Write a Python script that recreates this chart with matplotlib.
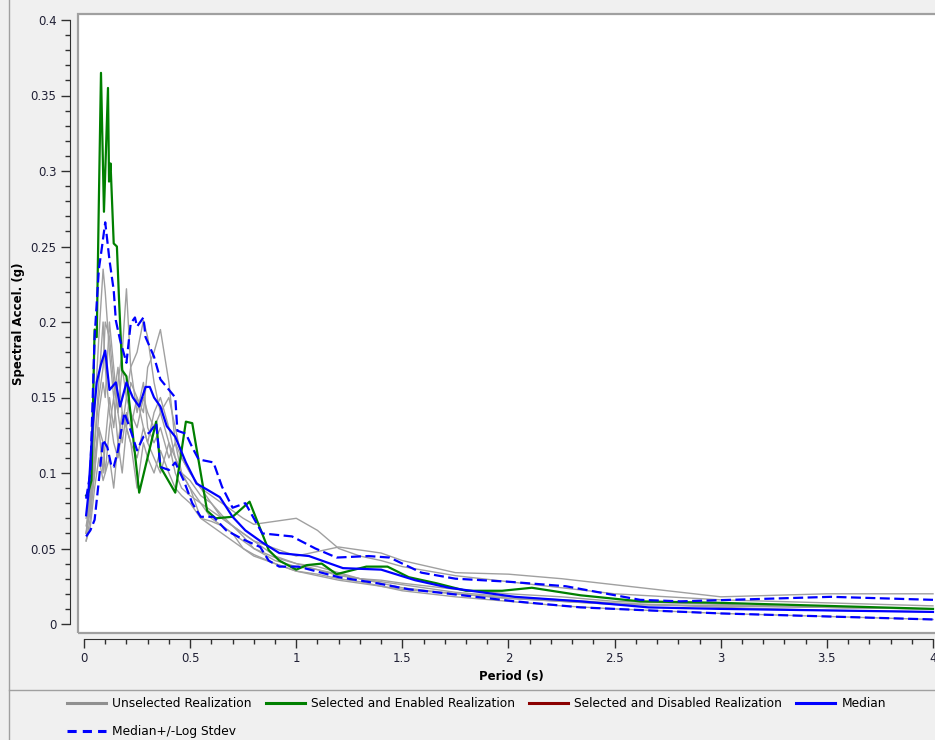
import matplotlib.pyplot as plt, numpy as np
from matplotlib.lines import Line2D
from matplotlib.patches import Rectangle
from matplotlib.ticker import MultipleLocator

# period grid shared by the unselected realizations
t_gray = [0.01, 0.03, 0.05, 0.07, 0.09, 0.1, 0.12, 0.14, 0.16, 0.18, 0.2, 0.22, 0.25, 0.28, 0.3,
          0.33, 0.36, 0.4, 0.43, 0.46, 0.5, 0.55, 0.6, 0.65, 0.7, 0.75, 0.8, 0.9, 1.0, 1.1, 1.2,
          1.3, 1.4, 1.5, 1.75, 2.0, 2.25, 2.5, 3.0, 3.5, 4.0]
gray_1 = [0.06, 0.09, 0.14, 0.19, 0.235, 0.22, 0.18, 0.15, 0.17, 0.14, 0.13, 0.12, 0.11, 0.13, 0.12,
          0.11, 0.10, 0.12, 0.11, 0.10, 0.09, 0.08, 0.075, 0.07, 0.065, 0.06, 0.055, 0.045, 0.04, 0.038, 0.034,
          0.03, 0.028, 0.026, 0.021, 0.018, 0.016, 0.014, 0.011, 0.009, 0.008]
gray_2 = [0.055, 0.07, 0.10, 0.13, 0.10, 0.12, 0.15, 0.13, 0.16, 0.18, 0.222, 0.17, 0.14, 0.16, 0.13,
          0.12, 0.13, 0.11, 0.12, 0.10, 0.09, 0.07, 0.068, 0.065, 0.06, 0.055, 0.05, 0.042, 0.038, 0.036, 0.033,
          0.03, 0.029, 0.027, 0.023, 0.02, 0.018, 0.015, 0.013, 0.011, 0.01]
gray_3 = [0.065, 0.08, 0.12, 0.16, 0.20, 0.17, 0.14, 0.12, 0.11, 0.13, 0.15, 0.17, 0.18, 0.201, 0.19,
          0.16, 0.14, 0.12, 0.10, 0.09, 0.085, 0.08, 0.07, 0.065, 0.06, 0.05, 0.046, 0.04, 0.035, 0.033, 0.03,
          0.028, 0.025, 0.023, 0.02, 0.017, 0.015, 0.013, 0.012, 0.011, 0.010]
gray_4 = [0.06, 0.075, 0.11, 0.13, 0.12, 0.10, 0.13, 0.15, 0.12, 0.14, 0.13, 0.16, 0.15, 0.14, 0.17,
          0.18, 0.195, 0.16, 0.12, 0.11, 0.10, 0.09, 0.085, 0.08, 0.075, 0.07, 0.066, 0.068, 0.07, 0.062, 0.05,
          0.045, 0.042, 0.038, 0.032, 0.028, 0.024, 0.02, 0.016, 0.014, 0.012]
gray_5 = [0.055, 0.065, 0.09, 0.11, 0.095, 0.10, 0.11, 0.09, 0.12, 0.10, 0.13, 0.12, 0.09, 0.12, 0.11,
          0.10, 0.115, 0.10, 0.09, 0.085, 0.08, 0.07, 0.065, 0.06, 0.055, 0.05, 0.045, 0.04, 0.035, 0.032, 0.029,
          0.027, 0.025, 0.022, 0.018, 0.015, 0.012, 0.010, 0.007, 0.005, 0.003]
gray_6 = [0.07, 0.085, 0.12, 0.15, 0.17, 0.20, 0.19, 0.16, 0.14, 0.12, 0.14, 0.13, 0.15, 0.13, 0.12,
          0.14, 0.15, 0.13, 0.11, 0.10, 0.095, 0.085, 0.08, 0.072, 0.065, 0.06, 0.055, 0.05, 0.045, 0.048, 0.051,
          0.049, 0.047, 0.042, 0.034, 0.033, 0.03, 0.026, 0.018, 0.02, 0.02]
gray_7 = [0.06, 0.08, 0.10, 0.14, 0.16, 0.15, 0.20, 0.17, 0.14, 0.17, 0.15, 0.14, 0.13, 0.15, 0.14,
          0.13, 0.14, 0.15, 0.13, 0.11, 0.10, 0.09, 0.08, 0.07, 0.065, 0.058, 0.05, 0.044, 0.04, 0.036, 0.032,
          0.03, 0.027, 0.024, 0.02, 0.017, 0.015, 0.013, 0.012, 0.011, 0.010]
grays = [gray_1, gray_2, gray_3, gray_4, gray_5, gray_6, gray_7]

t_green = [0.01, 0.02, 0.035, 0.05, 0.06, 0.07, 0.08, 0.094, 0.113, 0.118, 0.125, 0.14, 0.155, 0.165,
           0.18, 0.2, 0.26, 0.34, 0.36, 0.43, 0.48, 0.51, 0.58, 0.62, 0.70, 0.78, 0.87, 0.92, 1.0, 1.05,
           1.12, 1.19, 1.33, 1.43, 1.53, 1.66, 1.80, 1.97, 2.11, 2.34, 2.62, 3.0, 3.5, 4.0]
sa_green = [0.085, 0.087, 0.095, 0.195, 0.19, 0.28, 0.365, 0.273, 0.355, 0.293, 0.305, 0.252, 0.25, 0.215,
            0.168, 0.164, 0.087, 0.134, 0.104, 0.087, 0.134, 0.133, 0.075, 0.070, 0.071, 0.081, 0.049, 0.042, 0.036, 0.039,
            0.040, 0.033, 0.038, 0.038, 0.031, 0.027, 0.022, 0.022, 0.024, 0.019, 0.015, 0.014, 0.012, 0.010]

t_med = [0.01, 0.02, 0.04, 0.06, 0.08, 0.10, 0.12, 0.15, 0.17, 0.20, 0.23, 0.26, 0.29, 0.31, 0.33, 0.36,
         0.39, 0.43, 0.48, 0.53, 0.58, 0.64, 0.70, 0.76, 0.84, 0.92, 1.06, 1.22, 1.40, 1.56, 1.72, 2.03,
         2.34, 2.66, 3.0, 3.5, 4.0]
sa_med = [0.072, 0.085, 0.13, 0.16, 0.172, 0.181, 0.155, 0.160, 0.144, 0.160, 0.150, 0.144, 0.157, 0.157, 0.150, 0.144,
          0.131, 0.124, 0.107, 0.093, 0.089, 0.084, 0.071, 0.062, 0.054, 0.047, 0.045, 0.037, 0.036, 0.029, 0.024, 0.018,
          0.015, 0.011, 0.010, 0.009, 0.008]

t_hi = [0.01, 0.03, 0.05, 0.07, 0.085, 0.10, 0.12, 0.14, 0.15, 0.17, 0.20, 0.22, 0.24, 0.25, 0.28, 0.29,
        0.33, 0.36, 0.43, 0.44, 0.48, 0.51, 0.54, 0.61, 0.65, 0.70, 0.76, 0.84, 0.98, 1.09, 1.19, 1.34,
        1.44, 1.59, 1.75, 2.0, 2.27, 2.62, 2.81, 3.52, 4.0]
sa_hi = [0.083, 0.10, 0.19, 0.235, 0.25, 0.266, 0.241, 0.221, 0.201, 0.188, 0.173, 0.199, 0.203, 0.197, 0.203, 0.190,
         0.177, 0.162, 0.150, 0.128, 0.126, 0.117, 0.109, 0.107, 0.091, 0.077, 0.080, 0.060, 0.058, 0.050, 0.044, 0.045,
         0.044, 0.034, 0.030, 0.028, 0.025, 0.016, 0.015, 0.018, 0.016]

t_lo = [0.01, 0.03, 0.05, 0.07, 0.09, 0.11, 0.13, 0.14, 0.16, 0.19, 0.22, 0.25, 0.28, 0.31, 0.34, 0.36,
        0.40, 0.43, 0.47, 0.51, 0.55, 0.61, 0.67, 0.75, 0.83, 0.87, 0.92, 1.01, 1.20, 1.38, 1.53, 1.66,
        2.03, 2.34, 2.66, 3.0, 3.5, 4.0]
sa_lo = [0.058, 0.062, 0.069, 0.095, 0.122, 0.117, 0.104, 0.104, 0.115, 0.140, 0.128, 0.115, 0.124, 0.127, 0.133, 0.104,
         0.102, 0.107, 0.095, 0.080, 0.071, 0.071, 0.062, 0.056, 0.051, 0.042, 0.038, 0.038, 0.031, 0.027, 0.023, 0.021,
         0.015, 0.011, 0.009, 0.007, 0.005, 0.003]

W, H = 935, 740
fig = plt.figure(figsize=(W / 100, H / 100), dpi=100, facecolor='#f0f0f0')

# white plot box in pixels: x 78..945, y 14..633 ; data 0..4 -> 84..933, 0..0.4 -> 624..20
ax = fig.add_axes([78 / W, 1 - 633 / H, (945 - 78) / W, (633 - 14) / H])
ax.set_facecolor('white')
ax.set_xlim(-6 * 4 / 849, 4 + 12 * 4 / 849)
ax.set_ylim(-9 / 1510, 0.4 + 6 / 1510)
ax.add_patch(Rectangle((0, 0), 1, 1, transform=ax.transAxes, fill=False,
                       edgecolor='#a0a0a0', lw=1.6, clip_on=False, zorder=5))

for g in grays:
  ax.plot(t_gray, g, color='#a0a0a0', lw=1.0, zorder=2)
ax.plot(t_green, sa_green, color='#008000', lw=1.6, zorder=3)
ax.plot(t_med, sa_med, color='#0000ff', lw=1.6, zorder=4)
ax.plot(t_hi, sa_hi, color='#0000ff', lw=1.6, ls=(0, (4.5, 2)), zorder=4)
ax.plot(t_lo, sa_lo, color='#0000ff', lw=1.6, ls=(0, (4.5, 2)), zorder=4)

for s in ['top', 'right']:
  ax.spines[s].set_visible(False)
ax.spines['left'].set_position(('outward', 6))
ax.spines['bottom'].set_position(('outward', 4))
ax.spines['left'].set_bounds(0, 0.4)
ax.spines['bottom'].set_bounds(0, 4)
for s in ['left', 'bottom']:
  ax.spines[s].set_color('#303030')
ax.yaxis.set_minor_locator(MultipleLocator(0.01))
ax.xaxis.set_minor_locator(MultipleLocator(0.1))
ax.set_yticks(np.arange(0, 0.401, 0.05))
ax.set_yticklabels(['0', '0.05', '0.1', '0.15', '0.2', '0.25', '0.3', '0.35', '0.4'])
ax.set_xticks(np.arange(0, 4.01, 0.5))
ax.set_xticklabels(['0', '0.5', '1', '1.5', '2', '2.5', '3', '3.5', '4'])
ax.tick_params(which='major', length=6.5, width=1, color='#303030', labelsize=8.5, labelcolor='#202035', pad=3)
ax.tick_params(which='minor', length=3.8, width=1, color='#303030')
ax.set_xlabel('Period (s)', fontsize=8.5, fontweight='bold', labelpad=4)
ax.set_ylabel('Spectral Accel. (g)', fontsize=8.5, fontweight='bold', labelpad=4)

# panel borders
fig.add_artist(Line2D([9 / W, 9 / W], [0, 1], transform=fig.transFigure, color='#a0a0a0', lw=1))
fig.add_artist(Line2D([9 / W, 1], [1 - 690 / H, 1 - 690 / H], transform=fig.transFigure, color='#a0a0a0', lw=1))

handles = [Line2D([], [], color='#909090', lw=2.2),
           Line2D([], [], color='#0000ff', lw=2.2, ls=(0, (3, 2))),
           Line2D([], [], color='#008000', lw=2.2),
           Line2D([], [], color='#8b0000', lw=2.2),
           Line2D([], [], color='#0000ff', lw=2.2)]
labels = ['Unselected Realization', 'Median+/-Log Stdev', 'Selected and Enabled Realization',
          'Selected and Disabled Realization', 'Median']
fig.legend(handles, labels, loc='upper left', bbox_to_anchor=(67 / W, 1 - 697 / H), ncol=4,
           frameon=False, fontsize=8.8, handlelength=3.2, handletextpad=0.5,
           columnspacing=1.15, labelspacing=1.25, borderpad=0, borderaxespad=0)

fig.savefig('out.png', dpi=100, facecolor=fig.get_facecolor())
